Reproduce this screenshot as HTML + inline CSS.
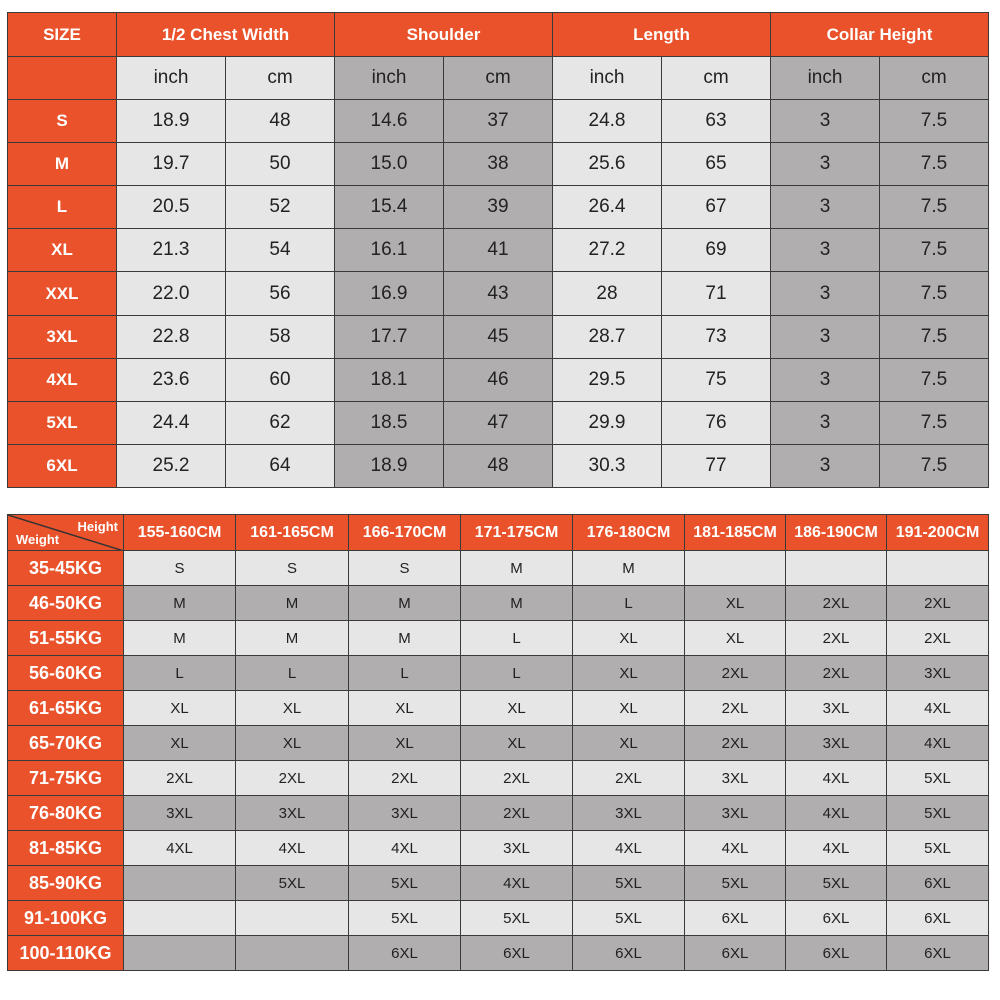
<!DOCTYPE html>
<html><head><meta charset="utf-8"><style>
body{margin:0;width:1000px;height:1000px;background:#fff;position:relative;overflow:hidden;font-family:"Liberation Sans",sans-serif}
.c{position:absolute;box-sizing:border-box;border:1px solid #3a3a3a;display:flex;align-items:center;justify-content:center;color:#222}
.o{background:#e9522a;color:#fff;font-weight:bold}
.l{background:#e6e6e6}.g{background:#b0aeae}
</style></head><body>
<div id="t1"></div>
<div id="t2"></div>
<script>
const sizes=["S","M","L","XL","XXL","3XL","4XL","5XL","6XL"];
const groups=["1/2 Chest Width","Shoulder","Length","Collar Height"];
const chestIn=["18.9","19.7","20.5","21.3","22.0","22.8","23.6","24.4","25.2"];
const chestCm=["48","50","52","54","56","58","60","62","64"];
const shIn=["14.6","15.0","15.4","16.1","16.9","17.7","18.1","18.5","18.9"];
const shCm=["37","38","39","41","43","45","46","47","48"];
const lenIn=["24.8","25.6","26.4","27.2","28","28.7","29.5","29.9","30.3"];
const lenCm=["63","65","67","69","71","73","75","76","77"];
const colIn=["3","3","3","3","3","3","3","3","3"];
const colCm=["7.5","7.5","7.5","7.5","7.5","7.5","7.5","7.5","7.5"];
const heights=["155-160CM","161-165CM","166-170CM","171-175CM","176-180CM","181-185CM","186-190CM","191-200CM"];
const weights=["35-45KG","46-50KG","51-55KG","56-60KG","61-65KG","65-70KG","71-75KG","76-80KG","81-85KG","85-90KG","91-100KG","100-110KG"];
const recs=[
["S","S","S","M","M","","",""],
["M","M","M","M","L","XL","2XL","2XL"],
["M","M","M","L","XL","XL","2XL","2XL"],
["L","L","L","L","XL","2XL","2XL","3XL"],
["XL","XL","XL","XL","XL","2XL","3XL","4XL"],
["XL","XL","XL","XL","XL","2XL","3XL","4XL"],
["2XL","2XL","2XL","2XL","2XL","3XL","4XL","5XL"],
["3XL","3XL","3XL","2XL","3XL","3XL","4XL","5XL"],
["4XL","4XL","4XL","3XL","4XL","4XL","4XL","5XL"],
["","5XL","5XL","4XL","5XL","5XL","5XL","6XL"],
["","","5XL","5XL","5XL","6XL","6XL","6XL"],
["","","6XL","6XL","6XL","6XL","6XL","6XL"]];
function cell(parent,x,y,w,h,cls,txt,fs,name){
 const d=document.createElement('div');d.className='c '+cls;
 d.style.cssText=`left:${x}px;top:${y}px;width:${w+1}px;height:${h+1}px;font-size:${fs}px`;
 d.textContent=txt;
 
 
 parent.appendChild(d);return d;}
const t1=document.getElementById('t1');
const cx=[7,116,225,334,443,552,661,770,879,988];
const r0=12,r1=56,r2=99,rh=(487-99)/9;
cell(t1,7,r0,109,r1-r0,'o','SIZE',17,'size-header');
cell(t1,7,r1,109,r2-r1,'o','',17,'size-subheader');
groups.forEach((g,i)=>cell(t1,cx[1+2*i],r0,cx[3+2*i]-cx[1+2*i],r1-r0,'o',g,17,'group-header'));
const cols=[chestIn,chestCm,shIn,shCm,lenIn,lenCm,colIn,colCm];
cols.forEach((arr,j)=>{
 const sh=(Math.floor(j/2)%2)?'g':'l';
 cell(t1,cx[1+j],r1,cx[2+j]-cx[1+j],r2-r1,sh,j%2?'cm':'inch',19,'unit-header');
 arr.forEach((v,i)=>cell(t1,cx[1+j],Math.round(r2+i*rh),cx[2+j]-cx[1+j],Math.round(r2+(i+1)*rh)-Math.round(r2+i*rh),sh,v,19,'measure-cell'));
});
sizes.forEach((s,i)=>cell(t1,7,Math.round(r2+i*rh),109,Math.round(r2+(i+1)*rh)-Math.round(r2+i*rh),'o',s,17,'size-label'));
const t2=document.getElementById('t2');
const bx=[7,123,235,348,460,572,684,785,886,988];
const h0=514,h1=550,hh=35;
const corner=cell(t2,7,h0,116,h1-h0,'o','',14,'corner-header');
corner.innerHTML='<svg width="116" height="36" style="position:absolute;left:0;top:0"><line x1="0" y1="0" x2="116" y2="36" stroke="#333" stroke-width="1.5"/></svg><span style="position:absolute;right:5px;top:4px;font-size:13px">Height</span><span style="position:absolute;left:8px;bottom:3px;font-size:13px">Weight</span>';
heights.forEach((h,j)=>cell(t2,bx[1+j],h0,bx[2+j]-bx[1+j],h1-h0,'o',h,16,'height-header'));
weights.forEach((w,i)=>{
 const y=h1+i*hh,sh=i%2?'g':'l';
 cell(t2,7,y,116,hh,'o',w,18,'weight-label');
 recs[i].forEach((v,j)=>cell(t2,bx[1+j],y,bx[2+j]-bx[1+j],hh,sh,v,15,'size-cell'));
});
</script>
</body></html>
